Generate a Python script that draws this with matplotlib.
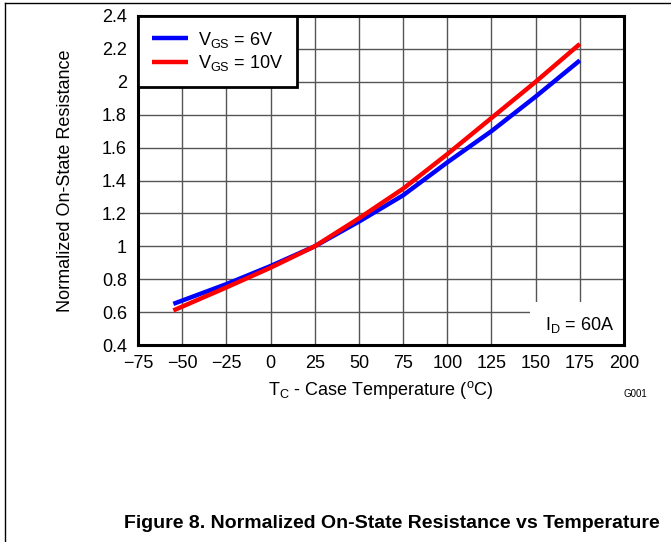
import matplotlib
matplotlib.use("Agg")
import matplotlib.pyplot as plt
from matplotlib.lines import Line2D
from matplotlib.patches import Rectangle

plt.rcParams['font.family'] = ['Liberation Sans', 'DejaVu Sans']
plt.rcParams['mathtext.fontset'] = 'custom'
plt.rcParams['mathtext.rm'] = 'Liberation Sans'
plt.rcParams['mathtext.it'] = 'Liberation Sans'
plt.rcParams['axes.unicode_minus'] = True

temps = [-55, -25, 0, 25, 50, 75, 100, 125, 150, 175]
r_6v = [0.65, 0.77, 0.88, 1.00, 1.15, 1.31, 1.51, 1.70, 1.91, 2.13]
r_10v = [0.61, 0.75, 0.87, 1.00, 1.17, 1.35, 1.56, 1.78, 2.00, 2.23]
xticks = [-75, -50, -25, 0, 25, 50, 75, 100, 125, 150, 175, 200]
yticks = [0.4, 0.6, 0.8, 1.0, 1.2, 1.4, 1.6, 1.8, 2.0, 2.2, 2.4]
ytick_labels = ['0.4', '0.6', '0.8', '1', '1.2', '1.4', '1.6', '1.8', '2', '2.2', '2.4']

FS = 13
W, H = 671, 542
fig = plt.figure(figsize=(W / 100, H / 100), dpi=100)
left, right, top, bottom = 138, 624, 16, 345
aw, ah = right - left, bottom - top
ax = fig.add_axes([left / W, 1 - bottom / H, aw / W, ah / H])

ax.plot(temps, r_6v, color='#0000ff', lw=3.2, solid_capstyle='butt', zorder=3, label=r'V$_{\mathrm{GS}}$ = 6V')
ax.plot(temps, r_10v, color='#ff0000', lw=3.2, solid_capstyle='butt', zorder=3, label=r'V$_{\mathrm{GS}}$ = 10V')

ax.set_xlim(-75, 200)
ax.set_ylim(0.4, 2.4)
ax.set_xticks(xticks)
ax.set_xticklabels([str(t).replace('-', '\u2212') for t in xticks])
ax.set_yticks(yticks)
ax.set_yticklabels(ytick_labels)
ax.tick_params(length=0, labelsize=FS)
ax.tick_params(axis='x', pad=7)
ax.tick_params(axis='y', pad=8)
ax.grid(True, color='#555555', lw=1.0, zorder=1)
for s in ax.spines.values():
    s.set_linewidth(2.2)
    s.set_zorder(5)

# I_D box masking grid lines
ax.add_patch(Rectangle((147, 0.4), 53, 0.262, facecolor='white', edgecolor='none', zorder=2))
ax.text(175, 0.52, r'I$_{\mathrm{D}}$ = 60A', ha='center', va='center', fontsize=FS, zorder=4)

leg = ax.legend(loc='upper left', fontsize=FS, frameon=True, fancybox=False,
                borderaxespad=0, handlelength=2.0, handletextpad=0.6,
                borderpad=0.75, labelspacing=0.2)
leg.get_frame().set_edgecolor('black')
leg.get_frame().set_linewidth(2)
leg.get_frame().set_alpha(1)
leg.set_zorder(6)

ax.set_xlabel(r'T$_{\mathrm{C}}$ - Case Temperature ($^{\mathrm{o}}$C)', fontsize=FS)
ax.xaxis.label.set_va('center')
ax.xaxis.set_label_coords(0.5, (bottom - 390) / ah)
ax.set_ylabel('Normalized On-State Resistance', fontsize=FS)
ax.yaxis.label.set_va('center')
ax.yaxis.set_label_coords((65 - left) / aw, 0.5)

fig.text(635 / W, 1 - 394 / H, 'G001', fontsize=7, ha='center', va='center')
fig.text(392 / W, 1 - 524 / H, 'Figure 8. Normalized On-State Resistance vs Temperature',
         fontsize=14, fontweight='bold', ha='center', va='center')

# page border lines
fig.add_artist(Line2D([5 / W, 1], [1 - 3 / H, 1 - 3 / H], color='black', lw=1))
fig.add_artist(Line2D([5 / W, 5 / W], [0, 1 - 3 / H], color='black', lw=1))

fig.savefig('out.png', dpi=100)
